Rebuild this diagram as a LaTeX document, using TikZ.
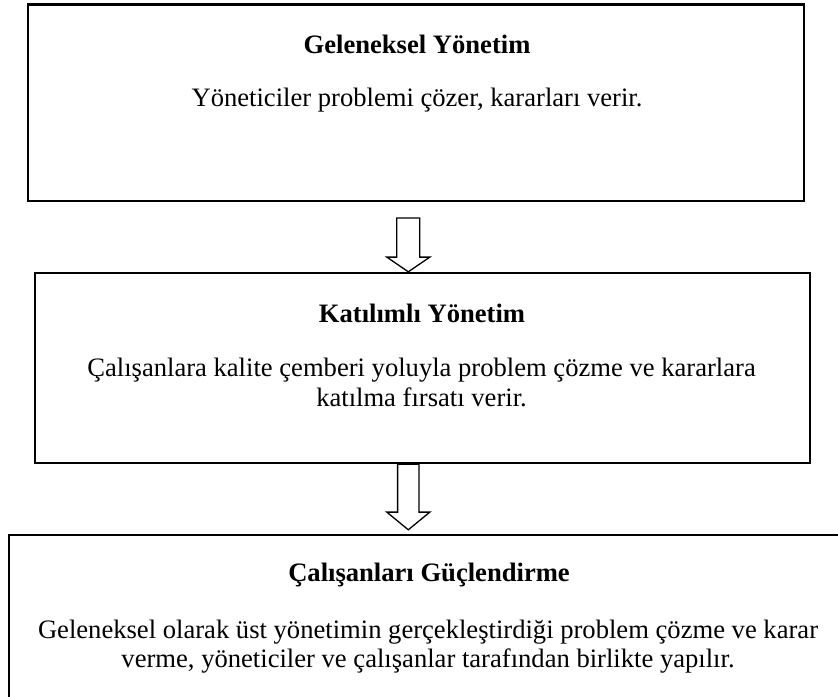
\documentclass[tikz,border=0pt]{standalone}
\usepackage{fontspec}
\setmainfont{Liberation Serif}
\usetikzlibrary{fit,calc}
\begin{document}
\begin{tikzpicture}[x=0.5pt,y=-0.5pt,
  box/.style={draw=black,line width=1.2pt,inner sep=0pt,fill=none},
  txt/.style={inner sep=0pt,anchor=base,font=\fontsize{13.3pt}{15pt}\selectfont},
  ttl/.style={txt,font=\fontsize{13.3pt}{15pt}\selectfont\bfseries},
  blockarrow/.style={draw=black,fill=white,line width=0.65pt,line join=miter}]
\useasboundingbox (0,0) rectangle (838,696);
\clip (0,0) rectangle (838,696);
\coordinate (p1a) at (28,4.5);   \coordinate (p1b) at (804,200.7);
\coordinate (p2a) at (35,273);   \coordinate (p2b) at (810,463);
\coordinate (p3a) at (9,535);    \coordinate (p3b) at (848,712);
\node[box,fit=(p1a)(p1b)] (b1) {};
\node[box,fit=(p2a)(p2b)] (b2) {};
\node[box,fit=(p3a)(p3b)] (b3) {};
\coordinate (ax) at (408.3,0);
% texts
\node[ttl] (t1) at (417,53.3) {Geleneksel Yönetim};
\node[txt] (d1) at (417,106.5) {Yöneticiler problemi çözer, kararları verir.};
\node[ttl] (t2) at (422,322) {Katılımlı Yönetim};
\node[txt] (d2a) at (421.5,376.4) {Çalışanlara kalite çemberi yoluyla problem çözme ve kararlara};
\node[txt] (d2b) at (421.5,406) {katılma fırsatı verir.};
\node[ttl] (t3) at (429,581.5) {Çalışanları Güçlendirme};
\node[txt] (d3a) at (428,638) {Geleneksel olarak üst yönetimin gerçekleştirdiği problem çözme ve karar};
\node[txt] (d3b) at (428,667) {verme, yöneticiler ve çalışanlar tarafından birlikte yapılır.};
% block arrows
\draw[blockarrow]
  ($(b1.south -| ax)+(-11.5,16)$) -- ($(b2.north -| ax)+(-11.5,-14.7)$)
  -- ($(b2.north -| ax)+(-21.5,-14.7)$) -- (b2.north -| ax)
  -- ($(b2.north -| ax)+(21.5,-14.7)$) -- ($(b2.north -| ax)+(11.5,-14.7)$)
  -- ($(b1.south -| ax)+(11.5,16)$) -- cycle;
\draw[blockarrow]
  ($(b2.south -| ax)+(-10.7,0)$) -- ($(b3.north -| ax)+(-10.7,-21.7)$)
  -- ($(b3.north -| ax)+(-21.5,-21.7)$) -- ($(b3.north -| ax)+(0,-4)$)
  -- ($(b3.north -| ax)+(21.5,-21.7)$) -- ($(b3.north -| ax)+(10.7,-21.7)$)
  -- ($(b2.south -| ax)+(10.7,0)$) -- cycle;
\draw[line width=1.2pt] ($(b2.south -| ax)+(-10.7,0)$) -- ($(b2.south -| ax)+(10.7,0)$);
\end{tikzpicture}
\end{document}
